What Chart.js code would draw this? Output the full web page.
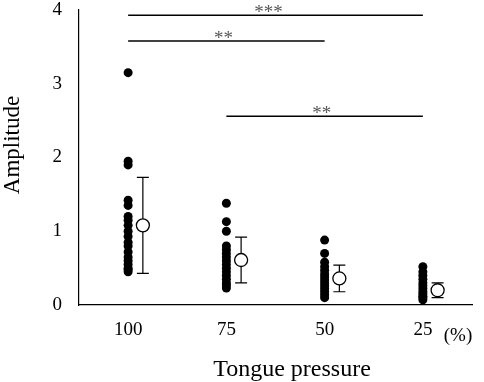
<!DOCTYPE html>
<html><head><meta charset="utf-8">
<script src="https://cdn.jsdelivr.net/npm/chart.js@4"></script>
<style>html,body{margin:0;padding:0;background:#fff}#wrap{width:484px;height:382px}</style>
</head><body><div id="wrap"><canvas id="c"></canvas></div>
<script>
// ---- data ----
const categories = ['100', '75', '50', '25'];
const categoryPos = [1, 2, 3, 4];
const amp100 = [3.15, 1.95, 1.9, 1.42, 1.35, 1.2, 1.15, 1.08, 1.0, 0.93, 0.85, 0.8, 0.72, 0.65, 0.6, 0.55, 0.5, 0.48, 0.45];
const amp75 = [1.38, 1.13, 1.0, 0.8, 0.75, 0.7, 0.65, 0.6, 0.55, 0.5, 0.45, 0.4, 0.35, 0.3, 0.27, 0.23];
const amp50 = [0.88, 0.7, 0.58, 0.52, 0.47, 0.42, 0.38, 0.34, 0.3, 0.26, 0.22, 0.18, 0.14, 0.1];
const amp25 = [0.52, 0.45, 0.4, 0.35, 0.3, 0.26, 0.22, 0.18, 0.15, 0.12, 0.1, 0.07];
const means = [1.08, 0.61, 0.36, 0.20];
const sds = [0.65, 0.31, 0.18, 0.10];
const sigLabels = ['***', '**', '**'];
const sigFrom = [1, 1, 2];
const sigTo = [4, 3, 4];
const sigLevel = [3.93, 3.58, 2.56];
const sigTextPos = [2.43, 1.97, 2.97];
const yTicks = [0, 1, 2, 3, 4];

const groups = [amp100, amp75, amp50, amp25];
const DOT_OFF = 0, MEAN_OFF = 0.15;
const FONT = '"Liberation Serif", "Times New Roman", serif';

const dotData = [];
groups.forEach((g, i) => g.forEach(v => dotData.push({x: categoryPos[i] + DOT_OFF, y: v})));
const meanData = means.map((m, i) => ({x: categoryPos[i] + MEAN_OFF, y: m}));

const sigSets = sigLabels.map((l, i) => ({
  type: 'line', label: 'sig' + i,
  data: [{x: sigFrom[i], y: sigLevel[i]}, {x: sigTo[i], y: sigLevel[i]}],
  borderColor: '#000', borderWidth: 1.5, pointRadius: 0, showLine: true, fill: false
}));

const errPlugin = {
  id: 'err',
  beforeDatasetsDraw(chart) {
    const {ctx, scales: {x, y}} = chart;
    ctx.save();
    ctx.strokeStyle = '#000'; ctx.lineWidth = 1.2;
    means.forEach((m, i) => {
      const px = x.getPixelForValue(categoryPos[i] + MEAN_OFF);
      const t = y.getPixelForValue(m + sds[i]), b = y.getPixelForValue(m - sds[i]);
      ctx.beginPath();
      ctx.moveTo(px, t); ctx.lineTo(px, b);
      ctx.moveTo(px - 6, t); ctx.lineTo(px + 6, t);
      ctx.moveTo(px - 6, b); ctx.lineTo(px + 6, b);
      ctx.stroke();
    });
    ctx.restore();
  }
};

const textPlugin = {
  id: 'texts',
  afterDraw(chart) {
    const {ctx, scales: {x, y}} = chart;
    ctx.save();
    ctx.fillStyle = '#555';
    ctx.font = '19px ' + FONT;
    ctx.textAlign = 'center'; ctx.textBaseline = 'alphabetic';
    sigLabels.forEach((l, i) => {
      ctx.fillText(l, x.getPixelForValue(sigTextPos[i]), y.getPixelForValue(sigLevel[i]) + 3);
    });
    ctx.fillStyle = '#000';
    ctx.font = '19px ' + FONT;
    ctx.textBaseline = 'middle';
    ctx.fillText('(%)', 458, 336);
    ctx.font = '24px ' + FONT;
    ctx.fillText('Tongue pressure', 292, 370);
    ctx.translate(13, 145);
    ctx.rotate(-Math.PI / 2);
    ctx.font = '23px ' + FONT;
    ctx.fillText('Amplitude', 0, 0);
    ctx.restore();
  }
};

new Chart(document.getElementById('c'), {
  type: 'scatter',
  data: {
    datasets: [
      {label: 'mean', data: meanData, pointRadius: 6.5, pointBackgroundColor: '#fff', pointBorderColor: '#000', pointBorderWidth: 1.3, order: 0},
      {label: 'dots', data: dotData, pointRadius: 4.5, pointBackgroundColor: '#000', pointBorderColor: '#000', pointBorderWidth: 0, order: 1},
      ...sigSets
    ]
  },
  options: {
    responsive: true, maintainAspectRatio: false, animation: false,
    layout: {padding: {left: 0, right: 12, top: 10, bottom: 0}, autoPadding: false},
    plugins: {legend: {display: false}, tooltip: {enabled: false}},
    scales: {
      x: {
        type: 'linear', min: 0.5, max: 4.5,
        grid: {display: false, drawTicks: false},
        border: {display: true, color: '#000', width: 1.2},
        afterBuildTicks: s => { s.ticks = categoryPos.map(v => ({value: v})); },
        ticks: {
          callback: v => { const i = categoryPos.indexOf(v); return i >= 0 ? categories[i] : ''; },
          color: '#000', font: {family: FONT, size: 19}, padding: 14, maxRotation: 0, autoSkip: false
        },
        afterFit: s => { s.height = 77; s.paddingLeft = 0; s.paddingRight = 0; }
      },
      y: {
        min: 0, max: 4,
        grid: {display: false, drawTicks: false},
        border: {display: true, color: '#000', width: 1.2},
        afterBuildTicks: s => { s.ticks = yTicks.map(v => ({value: v})); },
        ticks: {color: '#000', font: {family: FONT, size: 19}, padding: 17},
        afterFit: s => { s.width = 79; s.paddingTop = 0; s.paddingBottom = 0; }
      }
    }
  },
  plugins: [errPlugin, textPlugin]
});
</script>
</body></html>
